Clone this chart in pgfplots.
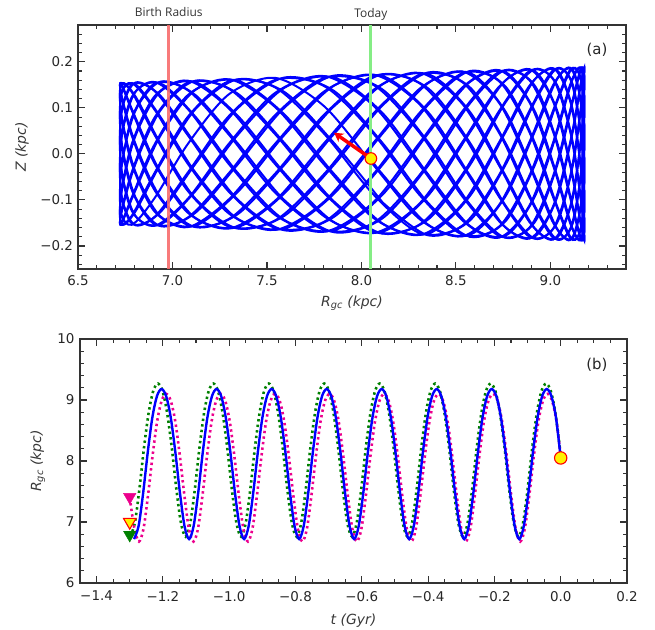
\documentclass[border=0pt]{standalone}
\usepackage{pgfplots}
\pgfplotsset{compat=1.18}
\usepackage{fontspec}
\setmainfont{DejaVu Sans}
\newfontfamily\osans{Open Sans}
\usetikzlibrary{arrows.meta}
\definecolor{mgreen}{rgb}{0,0.5,0}
\definecolor{vred}{rgb}{0.97,0.42,0.42}
\definecolor{vgreen}{rgb}{0.52,0.93,0.52}
\definecolor{axgray}{rgb}{0.2,0.2,0.2}
\pgfplotsset{
 myaxis/.style={
  scale only axis,
  axis line style={axgray, line width=1.3bp},
  tick style={axgray, line width=1.1bp},
  major tick length=7bp, minor tick length=4bp,
  tick align=inside, xtick pos=both, ytick pos=both,
  ticklabel style={font=\fontsize{13.5}{16}\selectfont, text=black!85},
  label style={font=\fontsize{14}{17}\selectfont\itshape, text=black!78},
  clip=false,
 }
}
\begin{document}
\begin{tikzpicture}
\useasboundingbox (0,0) rectangle (655bp,630bp);
% ---------------- panel (a)
\begin{axis}[myaxis, at={(78bp,361bp)}, anchor=south west, width=548bp, height=244bp,
 xmin=6.5, xmax=9.4, ymin=-0.25, ymax=0.28,
 xtick={6.5,7.0,7.5,8.0,8.5,9.0}, xticklabels={6.5,7.0,7.5,8.0,8.5,9.0},
 minor xtick={6.6,6.7,6.8,6.9,7.1,7.2,7.3,7.4,7.6,7.7,7.8,7.9,8.1,8.2,8.3,8.4,8.6,8.7,8.8,8.9,9.1,9.2,9.3},
 ytick={-0.2,-0.1,0,0.1,0.2}, yticklabels={−0.2,−0.1,0.0,0.1,0.2},
 minor ytick={-0.24,-0.22,-0.18,-0.16,-0.14,-0.12,-0.08,-0.06,-0.04,-0.02,0.02,0.04,0.06,0.08,0.12,0.14,0.16,0.18,0.22,0.24,0.26},
 xticklabel shift=3bp, yticklabel shift=1.5bp,
 xlabel={R\textsubscript{gc} (kpc)}, ylabel={Z (kpc)},
 xlabel style={at={(axis description cs:0.5,-0.139)}, anchor=center},
 ylabel style={at={(axis description cs:-0.102,0.5)}, anchor=center},
]
% orbit, first stretch (from today backwards)
\addplot[blue, line width=2bp, smooth] coordinates {
(8.048,-0.010)
(8.111,-0.044)(8.354,-0.154)(8.573,-0.176)(8.761,-0.093)(8.916,0.047)(9.035,0.162)(9.118,0.183)(9.166,0.096)
(9.180,-0.048)(9.160,-0.164)(9.105,-0.183)(9.015,-0.095)(8.889,0.047)(8.728,0.158)(8.533,0.175)(8.309,0.090)
(8.063,-0.044)(7.804,-0.147)(7.545,-0.161)(7.300,-0.083)(7.082,0.040)(6.907,0.136)(6.785,0.151)(6.726,0.079)
(6.732,-0.039)(6.804,-0.135)(6.937,-0.153)(7.121,-0.081)(7.345,0.041)(7.594,0.144)(7.854,0.166)(8.111,0.089)
(8.354,-0.045)(8.573,-0.156)(8.761,-0.178)(8.916,-0.094)(9.035,0.047)(9.118,0.163)(9.166,0.184)(9.180,0.096)
(9.160,-0.048)(9.105,-0.163)(9.015,-0.182)(8.889,-0.094)(8.728,0.046)(8.533,0.156)(8.309,0.172)(8.063,0.088)
(7.804,-0.043)(7.545,-0.144)(7.300,-0.158)(7.082,-0.081)(6.907,0.040)(6.785,0.134)(6.726,0.150)(6.732,0.079)
(6.804,-0.039)(6.937,-0.136)(7.121,-0.156)(7.345,-0.083)(7.594,0.042)(7.854,0.148)(8.111,0.169)(8.354,0.090)
(8.573,-0.046)(8.761,-0.159)(8.916,-0.180)(9.035,-0.095)(9.118,0.048)(9.166,0.164)(9.180,0.184)(9.160,0.096)
(9.105,-0.048)(9.015,-0.162)(8.889,-0.180)(8.728,-0.093)(8.533,0.045)(8.309,0.153)(8.063,0.169)(7.804,0.086)
(7.545,-0.042)(7.300,-0.141)(7.082,-0.155)(6.907,-0.080)(6.785,0.039)(6.726,0.134)(6.732,0.150)(6.804,0.079)
(6.937,-0.040)(7.121,-0.139)(7.345,-0.159)(7.594,-0.085)(7.854,0.043)(8.111,0.151)(8.354,0.173)(8.573,0.092)
(8.761,-0.046)(8.916,-0.161)(9.035,-0.182)(9.118,-0.096)(9.166,0.048)(9.180,0.164)(9.160,0.184)(9.105,0.096)
(9.015,-0.047)(8.889,-0.160)(8.728,-0.178)(8.533,-0.092)(8.309,0.045)(8.063,0.150)(7.804,0.165)(7.545,0.085)
(7.300,-0.041)(7.082,-0.138)(6.907,-0.153)(6.785,-0.079)(6.726,0.039)(6.732,0.134)(6.804,0.151)(6.937,0.080)
(7.121,-0.040)(7.345,-0.141)(7.594,-0.162)(7.854,-0.087)(8.111,0.044)(8.354,0.154)(8.573,0.176)(8.761,0.093)
(8.916,-0.047)(9.035,-0.162)(9.118,-0.183)(9.166,-0.096)(9.180,0.048)(9.160,0.164)(9.105,0.183)(9.015,0.095)
(8.889,-0.047)(8.728,-0.158)(8.533,-0.175)(8.309,-0.090)(8.063,0.044)(7.804,0.147)(7.545,0.161)(7.300,0.083)
(7.082,-0.040)(6.907,-0.136)(6.785,-0.151)(6.726,-0.079)(6.732,0.039)(6.804,0.135)(6.937,0.153)(7.121,0.081)
(7.345,-0.041)(7.594,-0.144)(7.854,-0.166)(8.111,-0.089)(8.354,0.045)(8.573,0.156)(8.761,0.178)(8.916,0.094)
(9.035,-0.047)(9.118,-0.163)(9.166,-0.184)(9.180,-0.096)(9.160,0.048)(9.105,0.163)(9.015,0.182)(8.889,0.094)
(8.728,-0.046)(8.533,-0.156)(8.309,-0.172)(8.063,-0.088)(7.804,0.043)(7.545,0.144)(7.300,0.158)(7.082,0.081)
(6.907,-0.040)(6.785,-0.134)(6.726,-0.150)(6.732,-0.079)(6.804,0.039)(6.937,0.136)(7.121,0.156)(7.345,0.083)
(7.594,-0.042)(7.854,-0.148)(8.111,-0.169)(8.354,-0.090)(8.573,0.046)(8.761,0.159)(8.916,0.180)(9.035,0.095)
(9.118,-0.048)(9.166,-0.164)(9.180,-0.184)(9.160,-0.096)(9.105,0.048)(9.015,0.162)(8.889,0.180)(8.728,0.093)
(8.533,-0.045)(8.309,-0.153)(8.063,-0.169)(7.804,-0.086)(7.545,0.042)(7.300,0.141)(7.082,0.155)(6.907,0.080)
(6.785,-0.039)(6.726,-0.134)(6.732,-0.150)(6.804,-0.079)(6.937,0.040)(7.121,0.139)(7.345,0.159)(7.594,0.085)
(7.854,-0.043)(8.111,-0.151)(8.354,-0.173)(8.573,-0.092)(8.761,0.046)(8.916,0.161)(9.035,0.182)(9.118,0.096)
(9.166,-0.048)(9.180,-0.164)(9.160,-0.184)(9.105,-0.096)(9.015,0.047)(8.889,0.160)(8.728,0.178)(8.533,0.092)
(8.309,-0.045)(8.063,-0.150)(7.804,-0.165)(7.545,-0.085)(7.300,0.041)(7.082,0.138)(6.907,0.153)(6.785,0.079)
(6.726,-0.039)
};
% orbit, second stretch (phase-shifted loops)
\addplot[blue, line width=2bp, smooth] coordinates {
(8.111,-0.105)(8.354,-0.177)(8.573,-0.145)(8.761,-0.025)(8.916,0.112)(9.035,0.186)(9.118,0.151)(9.166,0.026)
(9.180,-0.114)(9.160,-0.188)(9.105,-0.151)(9.015,-0.026)(8.889,0.112)(8.728,0.182)(8.533,0.144)(8.309,0.025)
(8.063,-0.105)(7.804,-0.169)(7.545,-0.133)(7.300,-0.023)(7.082,0.097)(6.907,0.156)(6.785,0.124)(6.726,0.022)
(6.732,-0.094)(6.804,-0.155)(6.937,-0.126)(7.121,-0.022)(7.345,0.099)(7.594,0.166)(7.854,0.137)(8.111,0.024)
(8.354,-0.107)(8.573,-0.180)(8.761,-0.147)(8.916,-0.026)(9.035,0.113)(9.118,0.187)(9.166,0.151)(9.180,0.026)
(9.160,-0.114)(9.105,-0.187)(9.015,-0.150)(8.889,-0.026)(8.728,0.111)(8.533,0.179)(8.309,0.142)(8.063,0.024)
(7.804,-0.103)(7.545,-0.165)(7.300,-0.130)(7.082,-0.022)(6.907,0.095)(6.785,0.154)(6.726,0.124)(6.732,0.022)
(6.804,-0.094)(6.937,-0.157)(7.121,-0.128)(7.345,-0.023)(7.594,0.101)(7.854,0.170)(8.111,0.140)(8.354,0.025)
(8.573,-0.109)(8.761,-0.182)(8.916,-0.149)(9.035,-0.026)(9.118,0.114)(9.166,0.188)(9.180,0.152)(9.160,0.026)
(9.105,-0.114)(9.015,-0.186)(8.889,-0.148)(8.728,-0.025)(8.533,0.109)(8.309,0.176)(8.063,0.139)(7.804,0.024)
(7.545,-0.101)(7.300,-0.162)(7.082,-0.128)(6.907,-0.022)(6.785,0.094)(6.726,0.154)(6.732,0.124)(6.804,0.022)
(6.937,-0.095)(7.121,-0.159)(7.345,-0.131)(7.594,-0.023)(7.854,0.103)(8.111,0.173)(8.354,0.142)(8.573,0.025)
(8.761,-0.111)(8.916,-0.184)(9.035,-0.150)(9.118,-0.026)(9.166,0.114)(9.180,0.188)(9.160,0.151)(9.105,0.026)
(9.015,-0.113)(8.889,-0.184)(8.728,-0.146)(8.533,-0.025)(8.309,0.107)(8.063,0.172)(7.804,0.136)(7.545,0.023)
(7.300,-0.098)(7.082,-0.159)(6.907,-0.126)(6.785,-0.022)(6.726,0.094)(6.732,0.154)(6.804,0.125)(6.937,0.022)
(7.121,-0.097)(7.345,-0.162)(7.594,-0.134)(7.854,-0.024)(8.111,0.105)(8.354,0.177)(8.573,0.145)(8.761,0.025)
(8.916,-0.112)(9.035,-0.186)(9.118,-0.151)(9.166,-0.026)(9.180,0.114)(9.160,0.188)(9.105,0.151)(9.015,0.026)
(8.889,-0.112)(8.728,-0.182)(8.533,-0.144)(8.309,-0.025)(8.063,0.105)(7.804,0.169)(7.545,0.133)(7.300,0.023)
(7.082,-0.097)(6.907,-0.156)(6.785,-0.124)(6.726,-0.022)(6.732,0.094)(6.804,0.155)(6.937,0.126)(7.121,0.022)
(7.345,-0.099)(7.594,-0.166)(7.854,-0.137)(8.111,-0.024)(8.354,0.107)(8.573,0.180)(8.761,0.147)(8.916,0.026)
(9.035,-0.113)(9.118,-0.187)(9.166,-0.151)(9.180,-0.026)(9.160,0.114)(9.105,0.187)(9.015,0.150)(8.889,0.026)
(8.728,-0.111)(8.533,-0.179)(8.309,-0.142)(8.063,-0.024)(7.804,0.103)(7.545,0.165)(7.300,0.130)(7.082,0.022)
(6.907,-0.095)(6.785,-0.154)(6.726,-0.124)(6.732,-0.022)(6.804,0.094)(6.937,0.157)(7.121,0.128)(7.345,0.023)
(7.594,-0.101)(7.854,-0.170)(8.111,-0.140)(8.354,-0.025)(8.573,0.109)(8.761,0.182)(8.916,0.149)(9.035,0.026)
(9.118,-0.114)(9.166,-0.188)(9.180,-0.152)(9.160,-0.026)(9.105,0.114)(9.015,0.186)(8.889,0.148)(8.728,0.025)
(8.533,-0.109)(8.309,-0.176)(8.063,-0.139)(7.804,-0.024)(7.545,0.101)(7.300,0.162)(7.082,0.128)(6.907,0.022)
(6.785,-0.094)(6.726,-0.154)(6.732,-0.124)(6.804,-0.022)(6.937,0.095)(7.121,0.159)(7.345,0.131)(7.594,0.023)
(7.854,-0.103)(8.111,-0.173)(8.354,-0.142)(8.573,-0.025)(8.761,0.111)(8.916,0.184)(9.035,0.150)(9.118,0.026)
(9.166,-0.114)(9.180,-0.188)(9.160,-0.151)(9.105,-0.026)(9.015,0.113)(8.889,0.184)(8.728,0.146)(8.533,0.025)
(8.309,-0.107)(8.063,-0.172)(7.804,-0.136)(7.545,-0.023)(7.300,0.098)(7.082,0.159)(6.907,0.126)(6.785,0.022)
(6.726,-0.094)(6.732,-0.154)(6.804,-0.125)(6.937,-0.022)(7.121,0.097)(7.345,0.162)(7.594,0.134)(7.854,0.024)
(8.111,-0.105)
};
\addplot[vred, line width=2.8bp, opacity=0.9] coordinates {(6.98,-0.25) (6.98,0.28)};
\addplot[vgreen, line width=2.8bp] coordinates {(8.05,-0.25) (8.05,0.28)};
\addplot[red, line width=3.5bp, -{Stealth[length=9bp,width=10bp]}] coordinates {(8.05,-0.01) (7.855,0.046)};
\addplot[only marks, mark=*, mark size=5.8bp, mark options={fill=yellow, draw=red, line width=1.1bp}] coordinates {(8.05,-0.01)};
\node[font=\osans\fontsize{12}{14}\selectfont, text=black!80] at (axis cs:6.98,0.309) {Birth Radius};
\node[font=\osans\fontsize{12}{14}\selectfont, text=black!80] at (axis cs:8.05,0.304) {Today};
\node[font=\fontsize{15}{18}\selectfont, text=black!85] at (axis description cs:0.947,0.898) {(a)};
\end{axis}
% ---------------- panel (b)
\begin{axis}[myaxis, at={(80bp,47bp)}, anchor=south west, width=547bp, height=244bp,
 xmin=-1.45, xmax=0.2, ymin=6, ymax=10,
 xtick={-1.4,-1.2,-1.0,-0.8,-0.6,-0.4,-0.2,0,0.2},
 xticklabels={−1.4,−1.2,−1.0,−0.8,−0.6,−0.4,−0.2,0.0,0.2},
 minor xtick={-1.35,-1.3,-1.25,-1.15,-1.1,-1.05,-0.95,-0.9,-0.85,-0.75,-0.7,-0.65,-0.55,-0.5,-0.45,-0.35,-0.3,-0.25,-0.15,-0.1,-0.05,0.05,0.1,0.15},
 ytick={6,7,8,9,10}, yticklabels={6,7,8,9,10},
 minor ytick={6.2,6.4,6.6,6.8,7.2,7.4,7.6,7.8,8.2,8.4,8.6,8.8,9.2,9.4,9.6,9.8},
 xticklabel shift=4.5bp, yticklabel shift=2bp,
 xlabel={t (Gyr)}, ylabel={R\textsubscript{gc} (kpc)},
 xlabel style={at={(axis description cs:0.5,-0.156)}, anchor=center},
 ylabel style={at={(axis description cs:-0.077,0.5)}, anchor=center},
]
% green (dotted)
\addplot[mgreen, line width=2.6bp, dash pattern=on 2.4bp off 3.2bp, smooth] coordinates {
(-1.2987,6.76)(-1.2848,6.98)(-1.2708,7.54)(-1.2569,8.22)(-1.2429,8.79)(-1.2290,9.15)(-1.2150,9.27)(-1.2011,9.15)(-1.1872,8.79)(-1.1732,8.22)(-1.1593,7.54)(-1.1453,6.98)
(-1.1314,6.76)(-1.1175,6.98)(-1.1035,7.54)(-1.0896,8.22)(-1.0756,8.79)(-1.0617,9.15)(-1.0477,9.27)(-1.0338,9.15)(-1.0199,8.79)(-1.0059,8.22)(-0.9920,7.54)(-0.9780,6.98)
(-0.9641,6.76)(-0.9502,6.98)(-0.9362,7.54)(-0.9223,8.22)(-0.9083,8.79)(-0.8944,9.15)(-0.8804,9.27)(-0.8665,9.15)(-0.8526,8.79)(-0.8386,8.22)(-0.8247,7.54)(-0.8107,6.98)
(-0.7968,6.76)(-0.7829,6.98)(-0.7689,7.54)(-0.7550,8.22)(-0.7410,8.79)(-0.7271,9.15)(-0.7131,9.27)(-0.6992,9.15)(-0.6853,8.79)(-0.6713,8.22)(-0.6574,7.54)(-0.6434,6.98)
(-0.6295,6.76)(-0.6156,6.98)(-0.6016,7.54)(-0.5877,8.22)(-0.5737,8.79)(-0.5598,9.15)(-0.5458,9.27)(-0.5319,9.15)(-0.5180,8.79)(-0.5040,8.22)(-0.4901,7.54)(-0.4761,6.98)
(-0.4622,6.76)(-0.4483,6.98)(-0.4343,7.54)(-0.4204,8.22)(-0.4064,8.79)(-0.3925,9.15)(-0.3785,9.27)(-0.3646,9.15)(-0.3507,8.79)(-0.3367,8.22)(-0.3228,7.54)(-0.3088,6.98)
(-0.2949,6.76)(-0.2810,6.98)(-0.2670,7.54)(-0.2531,8.22)(-0.2391,8.79)(-0.2252,9.15)(-0.2112,9.27)(-0.1973,9.15)(-0.1834,8.79)(-0.1694,8.22)(-0.1555,7.54)(-0.1415,6.98)
(-0.1276,6.76)(-0.1137,6.98)(-0.0997,7.54)(-0.0858,8.22)(-0.0718,8.79)(-0.0579,9.15)(-0.0439,9.27)(-0.0300,9.15)(-0.0161,8.79)(0.0,8.10)
};
% magenta (dotted)
\addplot[magenta, line width=2.6bp, dash pattern=on 2.4bp off 3.2bp, smooth] coordinates {
(-1.3000,7.40)(-1.2858,6.89)
(-1.2721,6.68)(-1.2584,6.89)(-1.2447,7.44)(-1.2310,8.09)(-1.2173,8.65)(-1.2036,8.99)(-1.1899,9.10)(-1.1763,8.99)(-1.1626,8.65)(-1.1489,8.09)(-1.1352,7.44)(-1.1215,6.89)
(-1.1078,6.68)(-1.0941,6.89)(-1.0804,7.44)(-1.0667,8.09)(-1.0530,8.65)(-1.0393,8.99)(-1.0256,9.10)(-1.0120,8.99)(-0.9983,8.65)(-0.9846,8.09)(-0.9709,7.44)(-0.9572,6.89)
(-0.9435,6.68)(-0.9298,6.89)(-0.9161,7.44)(-0.9024,8.09)(-0.8887,8.65)(-0.8750,8.99)(-0.8613,9.10)(-0.8477,8.99)(-0.8340,8.65)(-0.8203,8.09)(-0.8066,7.44)(-0.7929,6.89)
(-0.7792,6.68)(-0.7655,6.89)(-0.7518,7.44)(-0.7381,8.09)(-0.7244,8.65)(-0.7107,8.99)(-0.6970,9.10)(-0.6834,8.99)(-0.6697,8.65)(-0.6560,8.09)(-0.6423,7.44)(-0.6286,6.89)
(-0.6149,6.68)(-0.6012,6.89)(-0.5875,7.44)(-0.5738,8.09)(-0.5601,8.65)(-0.5464,8.99)(-0.5327,9.10)(-0.5191,8.99)(-0.5054,8.65)(-0.4917,8.09)(-0.4780,7.44)(-0.4643,6.89)
(-0.4506,6.68)(-0.4369,6.89)(-0.4232,7.44)(-0.4095,8.09)(-0.3958,8.65)(-0.3821,8.99)(-0.3684,9.10)(-0.3548,8.99)(-0.3411,8.65)(-0.3274,8.09)(-0.3137,7.44)(-0.3000,6.89)
(-0.2863,6.68)(-0.2726,6.89)(-0.2589,7.44)(-0.2452,8.09)(-0.2315,8.65)(-0.2178,8.99)(-0.2041,9.10)(-0.1905,8.99)(-0.1768,8.65)(-0.1631,8.09)(-0.1494,7.44)(-0.1357,6.89)
(-0.1220,6.68)(-0.1083,6.89)(-0.0946,7.44)(-0.0809,8.09)(-0.0672,8.65)(-0.0535,8.99)(-0.0398,9.10)(-0.0262,8.99)(-0.0125,8.65)(0.0,8.07)
};
% blue (solid)
\addplot[blue, line width=2.4bp, smooth] coordinates {
(-1.2870,6.72)(-1.2732,6.935)(-1.2593,7.485)(-1.2455,8.15)(-1.2317,8.715)(-1.2178,9.065)(-1.2040,9.18)(-1.1902,9.065)(-1.1763,8.715)(-1.1625,8.15)(-1.1487,7.485)(-1.1348,6.935)
(-1.1210,6.72)(-1.1072,6.935)(-1.0933,7.485)(-1.0795,8.15)(-1.0657,8.715)(-1.0518,9.065)(-1.0380,9.18)(-1.0242,9.065)(-1.0103,8.715)(-0.9965,8.15)(-0.9827,7.485)(-0.9688,6.935)
(-0.9550,6.72)(-0.9412,6.935)(-0.9273,7.485)(-0.9135,8.15)(-0.8997,8.715)(-0.8858,9.065)(-0.8720,9.18)(-0.8582,9.065)(-0.8443,8.715)(-0.8305,8.15)(-0.8167,7.485)(-0.8028,6.935)
(-0.7890,6.72)(-0.7752,6.935)(-0.7613,7.485)(-0.7475,8.15)(-0.7337,8.715)(-0.7198,9.065)(-0.7060,9.18)(-0.6922,9.065)(-0.6783,8.715)(-0.6645,8.15)(-0.6507,7.485)(-0.6368,6.935)
(-0.6230,6.72)(-0.6092,6.935)(-0.5953,7.485)(-0.5815,8.15)(-0.5677,8.715)(-0.5538,9.065)(-0.5400,9.18)(-0.5262,9.065)(-0.5123,8.715)(-0.4985,8.15)(-0.4847,7.485)(-0.4708,6.935)
(-0.4570,6.72)(-0.4432,6.935)(-0.4293,7.485)(-0.4155,8.15)(-0.4017,8.715)(-0.3878,9.065)(-0.3740,9.18)(-0.3602,9.065)(-0.3463,8.715)(-0.3325,8.15)(-0.3187,7.485)(-0.3048,6.935)
(-0.2910,6.72)(-0.2772,6.935)(-0.2633,7.485)(-0.2495,8.15)(-0.2357,8.715)(-0.2218,9.065)(-0.2080,9.18)(-0.1942,9.065)(-0.1803,8.715)(-0.1665,8.15)(-0.1527,7.485)(-0.1388,6.935)
(-0.1250,6.72)(-0.1112,6.935)(-0.0973,7.485)(-0.0835,8.15)(-0.0697,8.715)(-0.0558,9.065)(-0.0420,9.18)(-0.0282,9.065)(-0.0143,8.715)(0.0,8.05)
};
\addplot[only marks, mark=triangle*, mark size=7.2bp, mark options={rotate=180, fill=magenta, draw=magenta}] coordinates {(-1.30,7.41)};
\addplot[only marks, mark=triangle*, mark size=7.2bp, mark options={rotate=180, fill=yellow, draw=red, line width=1.1bp}] coordinates {(-1.30,7.00)};
\addplot[only marks, mark=triangle*, mark size=7.2bp, mark options={rotate=180, fill=mgreen, draw=mgreen}] coordinates {(-1.30,6.79)};
\addplot[only marks, mark=*, mark size=6.2bp, mark options={fill=yellow, draw=red, line width=1.1bp}] coordinates {(0,8.05)};
\node[font=\fontsize{15}{18}\selectfont, text=black!85] at (axis description cs:0.945,0.893) {(b)};
\end{axis}
\end{tikzpicture}
\end{document}
